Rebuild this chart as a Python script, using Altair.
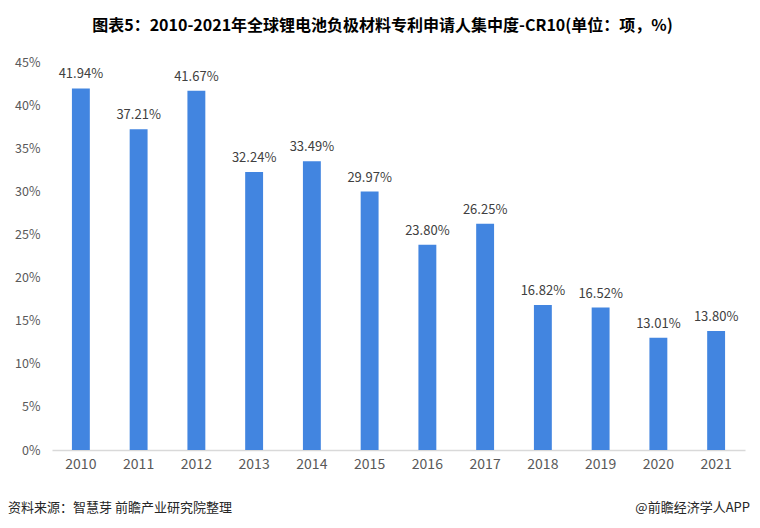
import altair as alt
import pandas as pd

years = ["2010", "2011", "2012", "2013", "2014", "2015", "2016", "2017", "2018", "2019", "2020", "2021"]
values = [41.94, 37.21, 41.67, 32.24, 33.49, 29.97, 23.80, 26.25, 16.82, 16.52, 13.01, 13.80]
labels = [f"{v:.2f}%" for v in values]

df = pd.DataFrame({"year": years, "value": values, "label": labels})

FONT = "Noto Sans CJK SC"

x = alt.X("year:N", sort=years, title=None,
          scale=alt.Scale(paddingInner=0.69, paddingOuter=0.345),
          axis=alt.Axis(labelAngle=0, labelFontSize=14, labelColor="#595959", labelFont=FONT,
                        domainColor="#d9d9d9", domainWidth=1.5, ticks=False, labelPadding=7))
y = alt.Y("value:Q", title=None,
          scale=alt.Scale(domain=[0, 45], nice=False),
          axis=alt.Axis(values=list(range(0, 50, 5)), labelExpr="datum.value + '%'",
                        labelFontSize=12.5, labelColor="#595959", labelFont=FONT,
                        domain=False, ticks=False, grid=False, labelPadding=12))

base = alt.Chart(df)
bars = base.mark_bar(color="#4285e0").encode(x=x, y=y)
text = base.mark_text(baseline="bottom", dy=-7, fontSize=13, color="#404040", font=FONT).encode(
    x=x, y=y, text="label:N")

src = alt.Chart(pd.DataFrame({"t": ["资料来源：智慧芽 前瞻产业研究院整理"]})).mark_text(
    align="left", baseline="middle", fontSize=13, color="#262626", font=FONT).encode(
    x=alt.value(-44), y=alt.value(446), text="t:N")
app = alt.Chart(pd.DataFrame({"t": ["@前瞻经济学人APP"]})).mark_text(
    align="right", baseline="middle", fontSize=13, color="#262626", font=FONT).encode(
    x=alt.value(698), y=alt.value(446), text="t:N")

chart = alt.layer(bars, text, src, app).properties(
    width=693, height=388,
    autosize=alt.AutoSizeParams(type="none"),
    padding={"left": 44, "top": 54, "right": 7, "bottom": 70},
    title=alt.TitleParams("图表5：2010-2021年全球锂电池负极材料专利申请人集中度-CR10(单位：项，%)",
                          fontSize=16, fontWeight="bold", font=FONT, color="#000000",
                          anchor="middle", dx=-16, offset=22),
).configure_view(stroke=None)

chart.save("out.html", embed_options={"renderer": "svg", "actions": False})
